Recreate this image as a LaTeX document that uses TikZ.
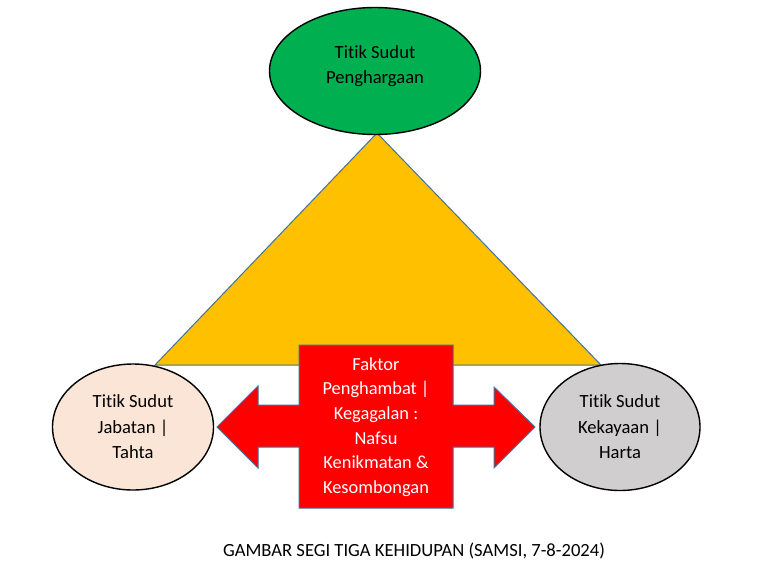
\documentclass[tikz,border=0pt]{standalone}
\usepackage{fontspec}
\setmainfont[Ligatures={NoCommon}]{Carlito}
\usepackage{xcolor}
\usetikzlibrary{shapes.geometric}
\definecolor{sudutgreen}{HTML}{00B050}
\definecolor{sudutgold}{HTML}{FFC000}
\definecolor{sudutpeach}{HTML}{FBE5D6}
\definecolor{sudutgray}{HTML}{D0CECE}
\definecolor{edgeblue}{HTML}{41719C}

\begin{document}
\begin{tikzpicture}[x=1pt, y=-1pt,
    corner/.style={ellipse, draw=black, line width=1.4pt, inner sep=0pt, align=center, font=\fontsize{18.6}{25.5}\selectfont},
    hambat/.style={fill=red, draw=edgeblue, line width=1pt},
    label/.style={align=center, text=white, font=\fontsize{18.4}{24.6}\selectfont}
]
\useasboundingbox (0,0) rectangle (768,573);

% segitiga
\filldraw[fill=sudutgold, draw=edgeblue, line width=1pt] (377,133) -- (601,365) -- (155,365) -- cycle;

\node[corner, fill=sudutgreen, minimum width=211pt, minimum height=127pt] (top) at (375,71) {};
\node[align=center, font=\fontsize{18.6}{25.5}\selectfont] (topteks) at (375,66) {Titik Sudut\\Penghargaan};
\node[corner, fill=sudutpeach, minimum width=161pt, minimum height=126pt] (left) at (133,427) {Titik Sudut\\Jabatan |\\Tahta};
\node[corner, fill=sudutgray, minimum width=160pt, minimum height=127pt] (right) at (620,427) {Titik Sudut\\Kekayaan |\\Harta};

% panah dua arah
\filldraw[hambat] (299,345) -- (453,345) -- (453,405) -- (494,405) -- (494,387) -- (535,427)
    -- (494,468) -- (494,447) -- (453,447) -- (453,508) -- (299,508) -- (299,447)
    -- (258,447) -- (258,468) -- (217,427) -- (258,386) -- (258,405) -- (299,405) -- cycle;
\node[label] (faktor) at (376,427) {Faktor\\Penghambat |\\Kegagalan :\\Nafsu\\Kenikmatan \&\\Kesombongan};

\node[font=\fontsize{18.6}{22}\selectfont] (judul) at (414,551) {GAMBAR SEGI TIGA KEHIDUPAN (SAMSI, 7-8-2024)};
\end{tikzpicture}
\end{document}
